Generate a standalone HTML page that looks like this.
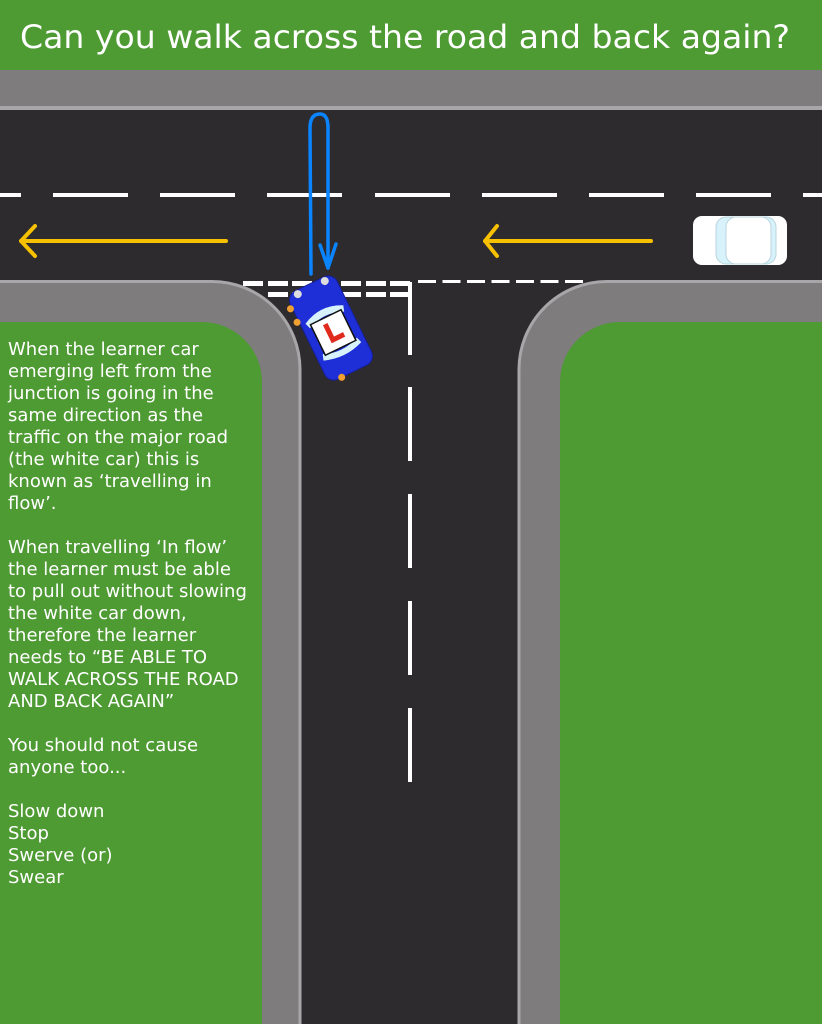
<!DOCTYPE html>
<html><head><meta charset="utf-8"><style>
html,body{margin:0;padding:0;background:#4e9a33;}
svg{display:block;}
</style></head><body>
<svg width="822" height="1024" viewBox="0 0 822 1024" xmlns="http://www.w3.org/2000/svg">
<rect x="0" y="0" width="822" height="1024" fill="#2d2b2d"/>
<rect x="0" y="0" width="822" height="70" fill="#4e9a33"/>
<text x="20" y="48" font-family="DejaVu Sans, Liberation Sans, sans-serif" font-size="32" fill="#fff" textLength="770" lengthAdjust="spacingAndGlyphs">Can you walk across the road and back again?</text>
<!-- top pavement -->
<rect x="0" y="70" width="822" height="40" fill="#7f7c7e"/>
<rect x="0" y="106" width="822" height="4" fill="#a8a6a8"/>
<!-- left pavement -->
<path d="M-5 281.5 L212 281.5 A88 88 0 0 1 300 369.5 L300 1030 L-5 1030 Z" fill="#7f7c7e" stroke="#a8a6a8" stroke-width="3"/>
<!-- right pavement -->
<path d="M827 281.5 L607 281.5 A88 88 0 0 0 519 369.5 L519 1030 L827 1030 Z" fill="#7f7c7e" stroke="#a8a6a8" stroke-width="3"/>
<!-- greens -->
<path d="M0 322 L202 322 A60 60 0 0 1 262 382 L262 1024 L0 1024 Z" fill="#4e9a33"/>
<path d="M822 322 L620 322 A60 60 0 0 0 560 382 L560 1024 L822 1024 Z" fill="#4e9a33"/>
<!-- center dashes -->
<g fill="#fff">
<rect x="0" y="193" width="21" height="4"/>
<rect x="53" y="193" width="75" height="4"/>
<rect x="160" y="193" width="75" height="4"/>
<rect x="267" y="193" width="75" height="4"/>
<rect x="375" y="193" width="75" height="4"/>
<rect x="482" y="193" width="75" height="4"/>
<rect x="589" y="193" width="75" height="4"/>
<rect x="696" y="193" width="75" height="4"/>
<rect x="803" y="193" width="19" height="4"/>
<rect x="408" y="282" width="4" height="73"/>
<rect x="408" y="387" width="4" height="74"/>
<rect x="408" y="494" width="4" height="74"/>
<rect x="408" y="601" width="4" height="74"/>
<rect x="408" y="708" width="4" height="74"/>
<rect x="243" y="281" width="20" height="5"/>
<rect x="268" y="281" width="20" height="5"/>
<rect x="292" y="281" width="20" height="5"/>
<rect x="317" y="281" width="20" height="5"/>
<rect x="341" y="281" width="20" height="5"/>
<rect x="366" y="281" width="20" height="5"/>
<rect x="390" y="281" width="20" height="5"/>
<rect x="268" y="292" width="20" height="5"/>
<rect x="292" y="292" width="20" height="5"/>
<rect x="317" y="292" width="20" height="5"/>
<rect x="341" y="292" width="20" height="5"/>
<rect x="366" y="292" width="20" height="5"/>
<rect x="390" y="292" width="20" height="5"/>
</g>
<line x1="418" y1="281.5" x2="585" y2="281.5" stroke="#fff" stroke-width="3" stroke-dasharray="18 6.5"/>
<!-- yellow arrows -->
<g stroke="#f7c000" stroke-width="4" fill="none" stroke-linecap="round" stroke-linejoin="round">
<line x1="21" y1="241" x2="226" y2="241"/><polyline points="35,226 21,241 35,256"/>
<line x1="485" y1="241" x2="651" y2="241"/><polyline points="497,226 485,241 497,256"/>
</g>
<!-- blue arrow -->
<g stroke="#0a84ff" stroke-width="3.5" fill="none" stroke-linecap="round" stroke-linejoin="round">
<path d="M311 274 L310 128 Q310 114 320 114 Q328 114 328 128 L328 268"/>
<polyline points="320,245 328,268 336,244"/>
</g>
<!-- learner car -->
<g transform="translate(331,328) rotate(-26)">
<rect x="-26" y="-49" width="52" height="98" rx="10" fill="#1f2fd8" stroke="#15209a" stroke-width="1"/>
<path d="M-21 -15 Q0 -26 21 -15 L19 -9 Q0 -18 -19 -9 Z" fill="#d8f2fb"/>
<path d="M-21 26 Q0 34 21 26 L19 20 Q0 28 -19 20 Z" fill="#d8f2fb"/>
<rect x="-17" y="-12" width="34" height="34" fill="#fff" stroke="#111" stroke-width="1.5"/>
<path d="M-6 -6 L-1 -6 L-1 9 L9 9 L9 14 L-6 14 Z" fill="#e02a1e"/>
<circle cx="-15" cy="-45" r="4" fill="#ddd"/><circle cx="15" cy="-45" r="4" fill="#ddd"/>
<circle cx="-28" cy="-35" r="3.5" fill="#f0a030"/><circle cx="-28" cy="-20" r="3.5" fill="#f0a030"/>
<circle cx="-12" cy="49" r="3.5" fill="#f0a030"/>
</g>
<!-- white car -->
<rect x="693" y="216" width="94" height="49" rx="9" fill="#fff"/>
<rect x="716" y="217" width="60" height="47" rx="10" fill="#d8f2fb" stroke="#b8d4dc" stroke-width="1"/>
<rect x="726" y="217" width="45" height="47" rx="10" fill="#fff" stroke="#b8d4dc" stroke-width="1"/>
<!-- body text -->
<g font-family="DejaVu Sans, Liberation Sans, sans-serif" font-size="18" fill="#fff">
<text x="8" y="355">When the learner car</text>
<text x="8" y="377">emerging left from the</text>
<text x="8" y="399">junction is going in the</text>
<text x="8" y="421">same direction as the</text>
<text x="8" y="443">traffic on the major road</text>
<text x="8" y="465">(the white car) this is</text>
<text x="8" y="487">known as ‘travelling in</text>
<text x="8" y="509">flow’.</text>
<text x="8" y="553">When travelling ‘In flow’</text>
<text x="8" y="575">the learner must be able</text>
<text x="8" y="597">to pull out without slowing</text>
<text x="8" y="619">the white car down,</text>
<text x="8" y="641">therefore the learner</text>
<text x="8" y="663">needs to “BE ABLE TO</text>
<text x="8" y="685">WALK ACROSS THE ROAD</text>
<text x="8" y="707">AND BACK AGAIN”</text>
<text x="8" y="751">You should not cause</text>
<text x="8" y="773">anyone too...</text>
<text x="8" y="817">Slow down</text>
<text x="8" y="839">Stop</text>
<text x="8" y="861">Swerve (or)</text>
<text x="8" y="883">Swear</text>
</g>
</svg>
</body></html>
